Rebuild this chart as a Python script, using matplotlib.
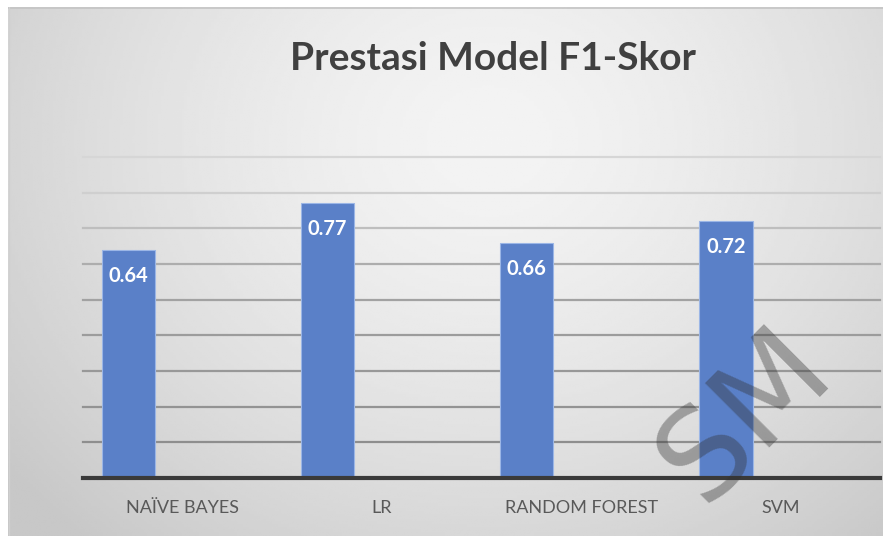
import numpy as np
import matplotlib
matplotlib.use('Agg')
import matplotlib.pyplot as plt

# data
categories = ['NAÏVE BAYES', 'LR', 'RANDOM FOREST', 'SVM']
f1_scores = [0.64, 0.77, 0.66, 0.72]
value_labels = ['0.64', '0.77', '0.66', '0.72']
grid_levels = [0.1, 0.2, 0.3, 0.4, 0.5, 0.6, 0.7, 0.8, 0.9]
title = 'Prestasi Model F1-Skor'

W, H, DPI = 883, 536, 100
fig = plt.figure(figsize=(W / DPI, H / DPI), dpi=DPI)
fig.patch.set_facecolor('white')

# background with a soft gradient (lighter in the middle/top, grey at edges)
bg = fig.add_axes([8 / W, 0, 1 - 8 / W, 1 - 7 / H])
yy, xx = np.mgrid[0:1:200j, 0:1:300j]
r = np.sqrt(((xx - 0.55) / 0.7) ** 2 + ((yy - 0.25) / 1.0) ** 2)
shade = 0.955 - 0.17 * np.clip(r, 0, 1) ** 1.5
bg.imshow(shade, cmap='gray', vmin=0, vmax=1, aspect='auto', extent=[0, 1, 1, 0])
bg.set_axis_off()
bg.plot([0, 1], [0.998, 0.998], color='#c4c4c4', lw=1.2, transform=bg.transAxes)
bg.plot([0.001, 0.001], [0, 1], color='#d0d0d0', lw=1.0, transform=bg.transAxes)

# main plot area
ax = fig.add_axes([83 / W, (H - 478) / H, 797 / W, (478 - 157) / H])
ax.patch.set_alpha(0)
x = np.arange(len(categories))
offset, bw = -0.273, 0.267

grid_cols = ['#8e8e8e', '#939393', '#989898', '#9c9c9c', '#a2a2a2',
             '#adadad', '#bebebe', '#cfcfcf', '#d6d6d6']
for lvl, c in zip(grid_levels, grid_cols):
    ax.axhline(lvl, color=c, lw=1.6, zorder=1, clip_on=False)

bars = ax.bar(x + offset, f1_scores, width=bw, color='#5a80c8',
              edgecolor='#9bb6e6', linewidth=0.8, zorder=2)
for b, lab in zip(bars, value_labels):
    ax.text(b.get_x() + b.get_width() / 2, b.get_height() - 0.073, lab,
            ha='center', va='center', color='white', fontsize=14.5,
            fontweight='bold', family='Lato', zorder=3)

ax.axhline(0, color='#3a3a3a', lw=3, zorder=3, clip_on=False)
ax.set_xlim(-0.5, 3.5)
ax.set_ylim(0, 0.9)
ax.set_xticks(x)
ax.set_xticklabels(categories, family='Lato', fontsize=13, color='#595959')
ax.tick_params(axis='x', length=0, pad=16)
ax.set_yticks([])
for s in ax.spines.values():
    s.set_visible(False)

fig.text(493 / W, 1 - 58 / H, title, ha='center', va='center',
         fontsize=28, fontweight='bold', color='#404040', family='Lato')

# faint diagonal watermark in the lower right
fig.text(745 / W, 1 - 415 / H, 'SM', ha='center', va='center', rotation=45,
         fontsize=90, color='#303030', alpha=0.38, family='DejaVu Sans')

fig.savefig('out.png', dpi=DPI)
